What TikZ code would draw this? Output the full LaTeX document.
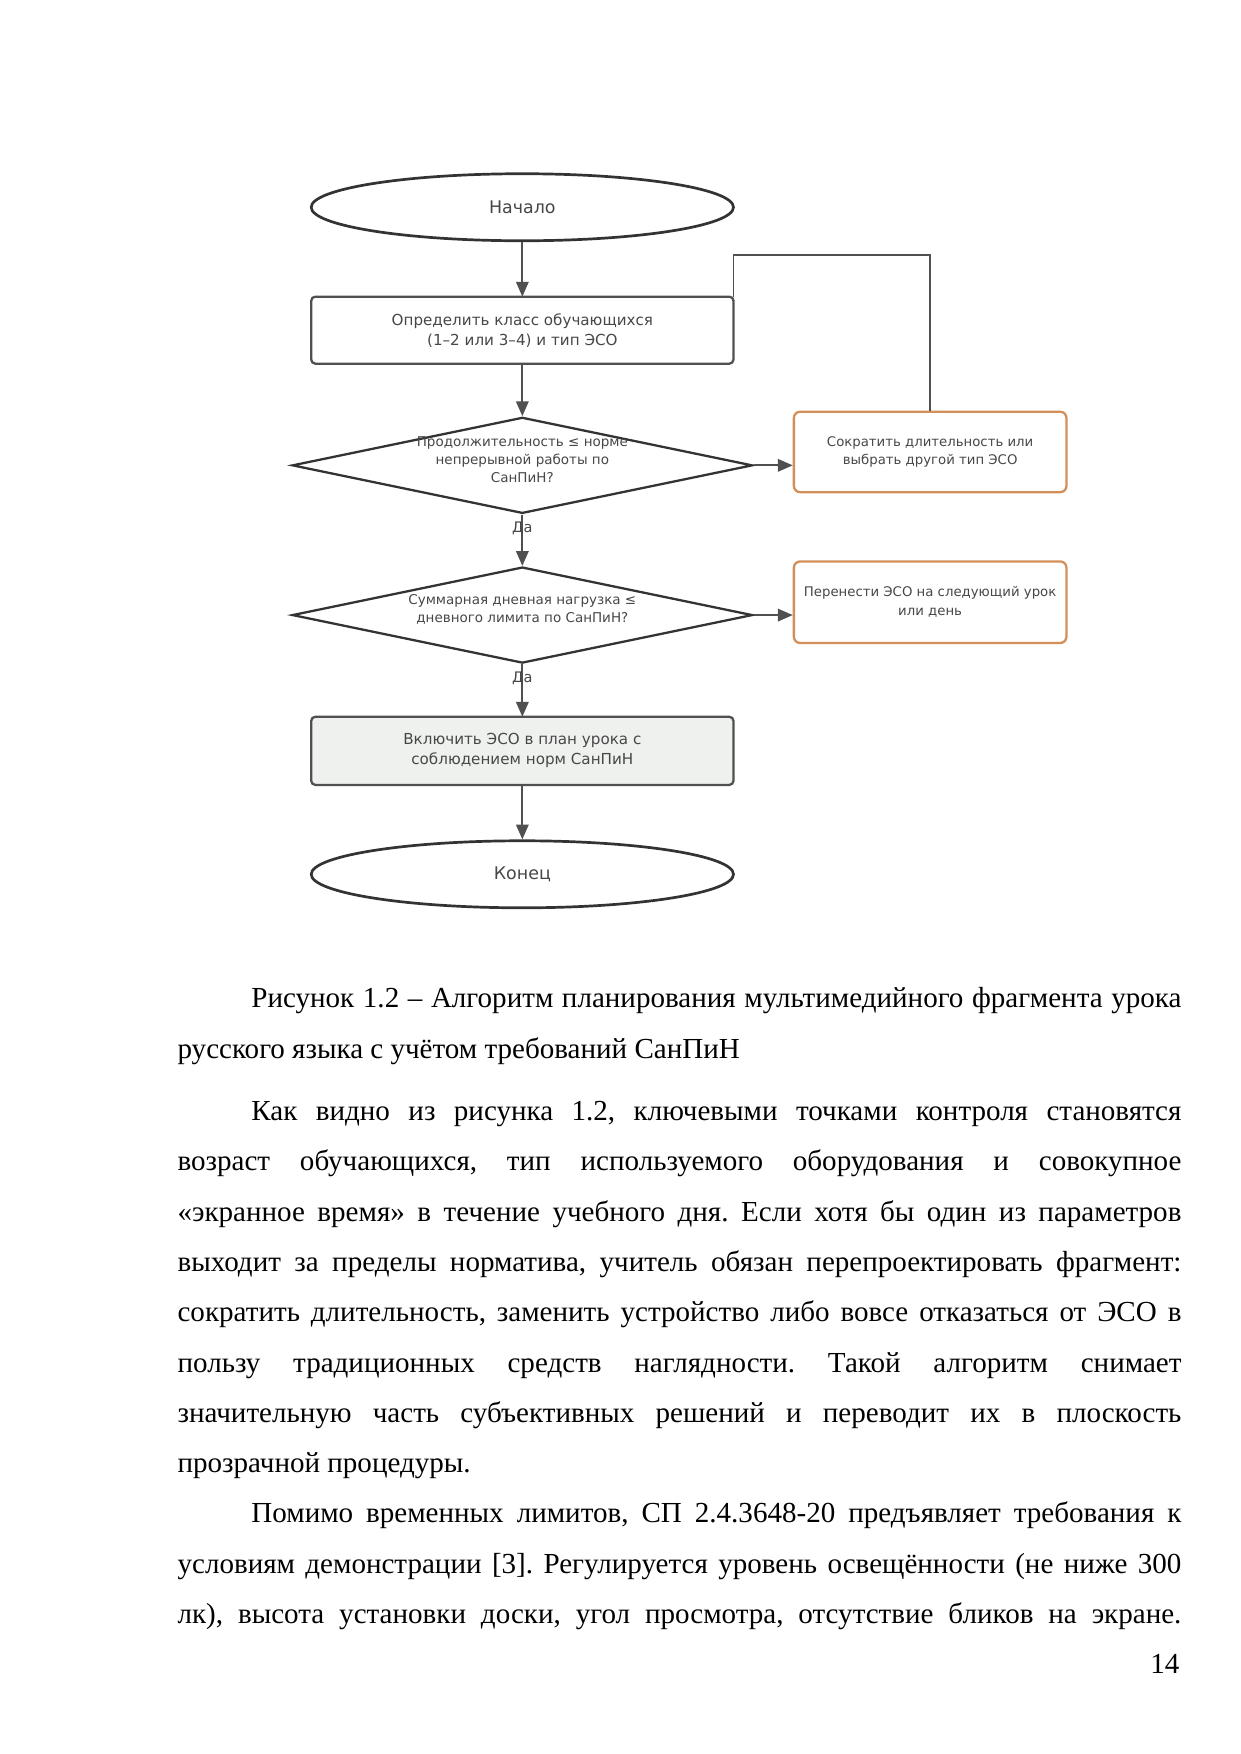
\documentclass[tikz,border=0pt]{standalone}
\usepackage{fontspec}
\setmainfont{Liberation Serif}
\newfontfamily\djv{DejaVu Sans}
\usetikzlibrary{shapes.geometric,arrows.meta}
\definecolor{lc}{HTML}{505050}
\definecolor{tc}{HTML}{474747}
\definecolor{oc}{HTML}{D48E58}
\definecolor{fc}{HTML}{EEF1EE}
\frenchspacing
\begin{document}
\begin{tikzpicture}[x=0.018919cm,y=-0.018919cm,
  term/.style={ellipse,draw=black!80,line width=1.3pt,minimum width=7.151cm,minimum height=1.135cm,inner sep=0pt,font=\djv\fontsize{8.4}{10}\selectfont,text=tc},
  proc/.style={rectangle,rounded corners=2pt,draw=lc,line width=1.1pt,minimum width=7.151cm,minimum height=1.135cm,inner sep=0pt,outer sep=0pt,align=center,font=\djv\fontsize{7.3}{9.66}\selectfont,text=tc},
  alt/.style={rectangle,rounded corners=3pt,draw=oc,line width=1.1pt,minimum width=4.616cm,minimum height=1.362cm,inner sep=0pt,align=center,font=\djv\fontsize{6.4}{9.1}\selectfont,text=tc},
  dec/.style={diamond,draw=black!80,line width=1.1pt,minimum width=7.795cm,minimum height=1.627cm,inner sep=0pt},
  dtext/.style={align=center,font=\djv\fontsize{6.5}{8.6}\selectfont,text=tc,inner sep=0pt},
  arr/.style={draw=lc,line width=0.9pt,-{Triangle[length=2.5mm,width=2.1mm]}},
  ln/.style={draw=lc,line width=0.9pt},
  yes/.style={font=\djv\fontsize{7}{8}\selectfont,text=tc,inner sep=0pt},
  body/.style={anchor=base west,inner sep=0pt,font=\fontsize{14}{24.2}\selectfont}
]
\fill[white] (0,0) rectangle (1110,1569.85);
\useasboundingbox (0,0) rectangle (1110,1569.85);

% flowchart
\node[term] (start) at (467.5,185.5) {Начало};
\node[proc] (b1) at (467.5,295.5) {Определить класс обучающихся\\(1–2 или 3–4) и тип ЭСО};
\node[dec] (d1) at (467.5,416.5) {};
\node[alt] (b2) at (832.5,404.5) {Сократить длительность или\\выбрать другой тип ЭСО};
\node[dec] (d2) at (467.5,550.5) {};
\node[alt,minimum height=1.381cm] (b3) at (832.5,539) {Перенести ЭСО на следующий урок\\или день};
\node[proc,fill=fc,minimum height=1.154cm] (b4) at (467.5,672) {Включить ЭСО в план урока с\\соблюдением норм СанПиН};
\node[term] (end) at (467.5,782.5) {Конец};

\draw[arr] (start) -- (b1);
\draw[arr] (b1) -- (d1);
\draw[arr] (d1) -- (d2);
\draw[arr] (d1.east) -- (d1.east -| b2.west);
\draw[arr] (d2.east) -- (d2.east -| b3.west);
\draw[arr] (d2) -- (b4);
\draw[arr] (b4) -- (end);
\coordinate (c1) at (832.5,228);
\coordinate (c2) at (b1.north east |- c1);
\draw[ln] (b2.north) -- (c1) -- (c2) -- (b1.north east);

\node[dtext] (d1t) at (467.5,411.5) {Продолжительность ≤ норме\\непрерывной работы по\\СанПиН?};
\node[dtext] (d2t) at (467.5,545.5) {Суммарная дневная нагрузка ≤\\дневного лимита по СанПиН?};
\node[yes] (y1) at (467.5,473) {Да};
\node[yes] (y2) at (467.5,607) {Да};

% text below
\node[body] (t1) at (224.64,902) {\makebox[15.75cm][s]{Рисунок 1.2 – Алгоритм планирования мультимедийного фрагмента урока}};
\node[body] (t2) at (158.57,947) {русского языка с учётом требований СанПиН};
\node[body] (t3) at (224.64,1003) {\makebox[15.75cm][s]{Как видно из рисунка 1.2, ключевыми точками контроля становятся}};
\node[body] (t4) at (158.57,1048) {\makebox[17cm][s]{возраст обучающихся, тип используемого оборудования и совокупное}};
\node[body] (t5) at (158.57,1093) {\makebox[17cm][s]{«экранное время» в течение учебного дня. Если хотя бы один из параметров}};
\node[body] (t6) at (158.57,1138) {\makebox[17cm][s]{выходит за пределы норматива, учитель обязан перепроектировать фрагмент:}};
\node[body] (t7) at (158.57,1183) {\makebox[17cm][s]{сократить длительность, заменить устройство либо вовсе отказаться от ЭСО в}};
\node[body] (t8) at (158.57,1228) {\makebox[17cm][s]{пользу традиционных средств наглядности. Такой алгоритм снимает}};
\node[body] (t9) at (158.57,1273) {\makebox[17cm][s]{значительную часть субъективных решений и переводит их в плоскость}};
\node[body] (t10) at (158.57,1318) {прозрачной процедуры.};
\node[body] (t11) at (224.64,1363) {\makebox[15.75cm][s]{Помимо временных лимитов, СП 2.4.3648-20 предъявляет требования к}};
\node[body] (t12) at (158.57,1408) {\makebox[17cm][s]{условиям демонстрации [3]. Регулируется уровень освещённости (не ниже 300}};
\node[body] (t13) at (158.57,1453) {\makebox[17cm][s]{лк), высота установки доски, угол просмотра, отсутствие бликов на экране.}};
\node[body,anchor=base east] (pn) at (1056,1498) {14};
\end{tikzpicture}
\end{document}
